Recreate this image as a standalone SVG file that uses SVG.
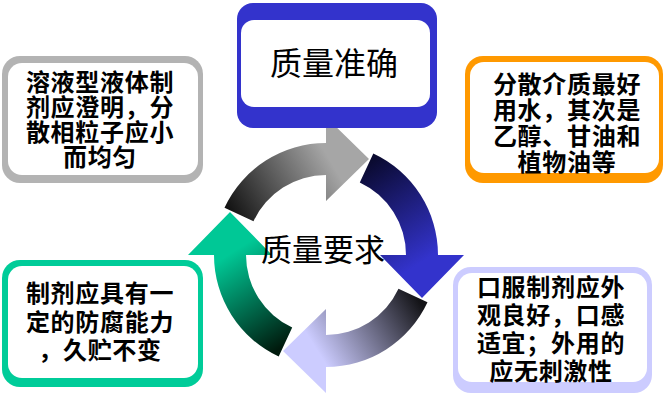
<svg xmlns="http://www.w3.org/2000/svg" width="667" height="401" viewBox="0 0 667 401">
<style>
.t{font-family:"Noto Sans CJK SC","Liberation Sans",sans-serif;font-size:24px;font-weight:700;fill:#000;text-anchor:middle;letter-spacing:0.7px}
.title{font-family:"Noto Sans CJK SC","Liberation Sans",sans-serif;fill:#000;text-anchor:middle;font-weight:400}
.inner{fill:#fff}
</style>
<defs>
<linearGradient id="gGray" gradientUnits="userSpaceOnUse" x1="232" y1="218" x2="330" y2="160">
<stop offset="0" stop-color="#111"/><stop offset="1" stop-color="#a6a6a6"/>
</linearGradient>
<linearGradient id="gBlue" gradientUnits="userSpaceOnUse" x1="365" y1="165" x2="425" y2="260">
<stop offset="0" stop-color="#0a0a30"/><stop offset="1" stop-color="#3333cc"/>
</linearGradient>
<linearGradient id="gLav" gradientUnits="userSpaceOnUse" x1="415" y1="295" x2="320" y2="355">
<stop offset="0" stop-color="#141418"/><stop offset="1" stop-color="#ccccff"/>
</linearGradient>
<linearGradient id="gGreen" gradientUnits="userSpaceOnUse" x1="285" y1="345" x2="228" y2="255">
<stop offset="0" stop-color="#001a0d"/><stop offset="1" stop-color="#00c896"/>
</linearGradient>
</defs>

<g id="connectors">
<path fill="url(#gGray)" d="M224.5,207.7 A112,112 0 0 1 326,143 L326,117 L369,159 L326,201 L326,175 A80,80 0 0 0 253.5,221.2 Z"/>
<path fill="url(#gBlue)" d="M373.3,153.5 A112,112 0 0 1 438,255 L464,255 L422,298 L380,255 L406,255 A80,80 0 0 0 359.8,182.5 Z"/>
<path fill="url(#gLav)" d="M427.5,302.3 A112,112 0 0 1 326,367 L326,393 L283,351 L326,309 L326,335 A80,80 0 0 0 398.5,288.8 Z"/>
<path fill="url(#gGreen)" d="M278.7,356.5 A112,112 0 0 1 214,255 L188,255 L230,212 L272,255 L246,255 A80,80 0 0 0 292.2,327.5 Z"/>
</g>

<g id="center">
<text class="title" x="323" y="261" font-size="31">质量要求</text>
</g>

<g id="node-top">
<rect x="237" y="3" width="200" height="125" rx="16" fill="#3333cc"/>
<rect class="inner" x="241" y="20" width="189" height="87" rx="13"/>
<text class="title" x="334" y="75" font-size="32">质量准确</text>
</g>

<g id="node-topleft">
<rect x="2" y="56" width="201" height="127" rx="18" fill="#b3b3b3"/>
<rect class="inner" x="8" y="63" width="190" height="112" rx="14"/>
<text class="t" x="100" y="91">溶液型液体制</text>
<text class="t" x="100" y="116">剂应澄明，分</text>
<text class="t" x="100" y="141">散相粒子应小</text>
<text class="t" x="100" y="166">而均匀</text>
</g>

<g id="node-topright">
<rect x="465" y="56" width="198" height="127" rx="18" fill="#ff9900"/>
<rect class="inner" x="470" y="62" width="189" height="111" rx="14"/>
<text class="t" x="567" y="93">分散介质最好</text>
<text class="t" x="567" y="119">用水，其次是</text>
<text class="t" x="567" y="145">乙醇、甘油和</text>
<text class="t" x="567" y="171">植物油等</text>
</g>

<g id="node-bottomleft">
<rect x="2" y="260" width="201" height="127" rx="18" fill="#00cc99"/>
<rect class="inner" x="8" y="266" width="190" height="112" rx="14"/>
<text class="t" x="100" y="302">制剂应具有一</text>
<text class="t" x="100" y="331">定的防腐能力</text>
<text class="t" x="100" y="359">，久贮不变</text>
</g>

<g id="node-bottomright">
<rect x="453" y="267" width="199" height="126" rx="18" fill="#ccccff"/>
<rect class="inner" x="458" y="273" width="189" height="109" rx="14"/>
<text class="t" x="551" y="296">口服制剂应外</text>
<text class="t" x="551" y="324">观良好，口感</text>
<text class="t" x="551" y="352">适宜；外用的</text>
<text class="t" x="551" y="380">应无刺激性</text>
</g>
</svg>
